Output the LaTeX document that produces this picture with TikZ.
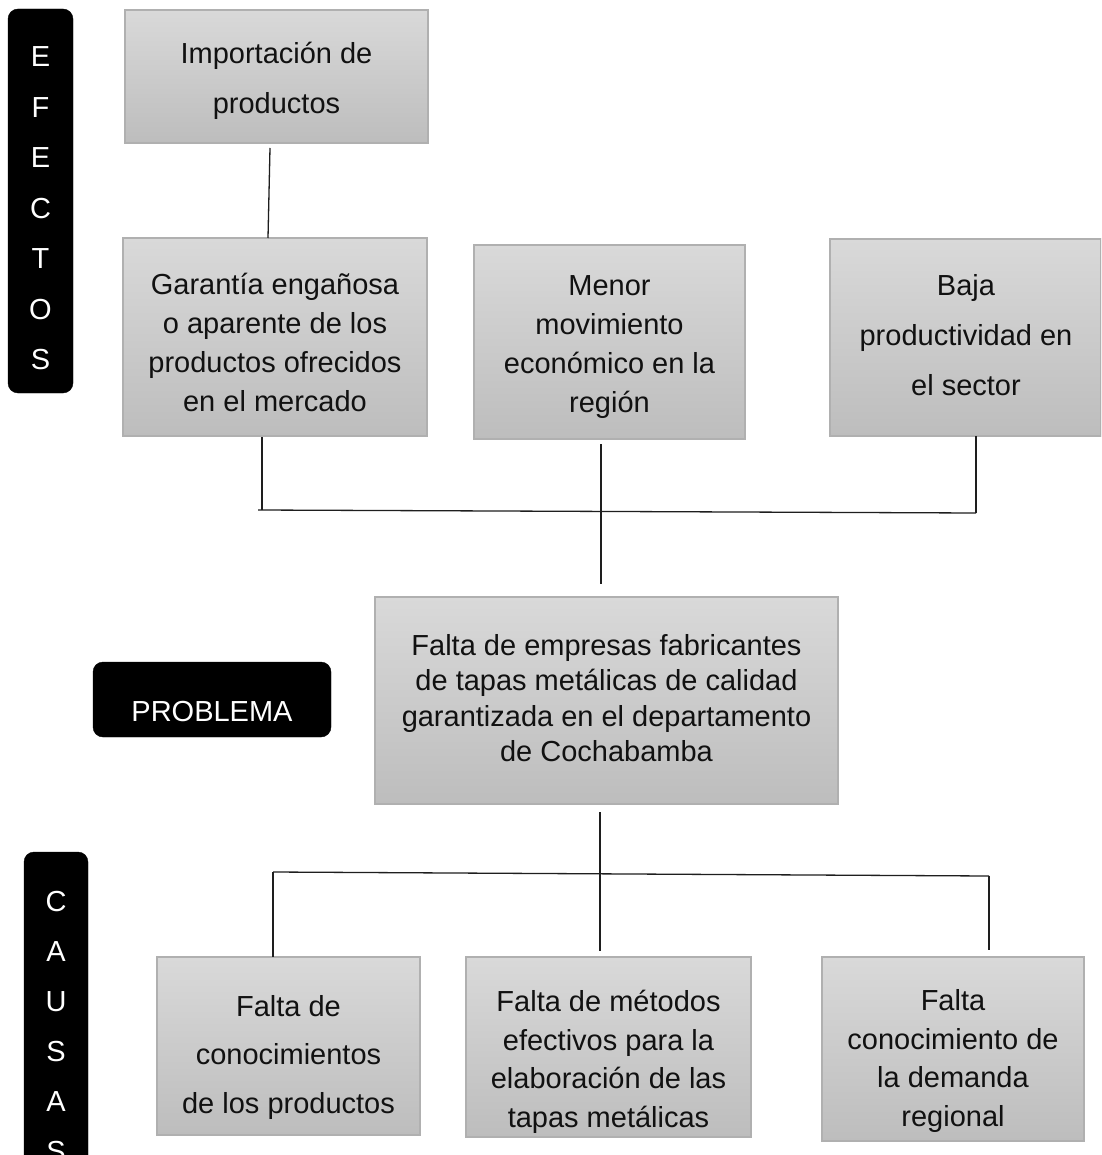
\documentclass[tikz,border=0pt]{standalone}
\usepackage{fontspec}
\setmainfont{Liberation Sans}
\usetikzlibrary{calc}
\definecolor{boxtop}{HTML}{D9D9D9}
\definecolor{boxbot}{HTML}{BDBDBD}
\definecolor{boxline}{HTML}{B0B0B0}
\definecolor{textc}{HTML}{111111}
\definecolor{linec}{HTML}{1E1E1E}
\begin{document}
\begin{tikzpicture}[x=1pt,y=-1pt,
  gbox/.style={draw=boxline, line width=1.3pt, top color=boxtop, bottom color=boxbot, inner sep=0pt, outer sep=0pt},
  bbox/.style={fill=black, draw=black, rounded corners=10pt, inner sep=0pt, outer sep=0pt},
  txt/.style={align=center, text=textc, inner sep=0pt},
  wtxt/.style={align=center, text=white, inner sep=0pt},
  conn/.style={draw=linec, line width=1.3pt}]
\useasboundingbox (0,0) rectangle (1101,1155);
\clip (0,0) rectangle (1101,1155);
\fill[white] (0,0) rectangle (1101,1155);

% side labels
\node[bbox, minimum width=65pt, minimum height=384pt] (efe) at (40.5,201) {};
\node[wtxt, font=\fontsize{29}{50.5}\selectfont] (efet) at (40.5,208.5) {E\\F\\E\\C\\T\\O\\S};
\node[bbox, minimum width=64pt, minimum height=328pt] (cau) at (56,1016) {};
\node[wtxt, font=\fontsize{29}{50}\selectfont] (caut) at (56,1027) {C\\A\\U\\S\\A\\S};
\node[bbox, minimum width=238pt, minimum height=75pt] (prob) at (212,699.5) {};
\node[wtxt, font=\fontsize{29}{35}\selectfont] (probt) at (212,712) {PROBLEMA};

% effect boxes
\node[gbox, minimum width=303pt, minimum height=133pt] (imp) at (276.5,76.5) {};
\node[txt, font=\fontsize{29}{50}\selectfont] at (276.5,81) {Importación de\\productos};
\node[gbox, minimum width=304pt, minimum height=198pt] (gar) at (275,337) {};
\node[txt, font=\fontsize{29}{39}\selectfont] at (275,342) {Garantía engañosa\\o aparente de los\\productos ofrecidos\\en el mercado};
\node[gbox, minimum width=271pt, minimum height=194pt] (men) at (609.5,342) {};
\node[txt, font=\fontsize{29}{39}\selectfont] at (609.5,347) {Menor\\movimiento\\económico en la\\región};
\node[gbox, minimum width=271pt, minimum height=197pt] (baja) at (965.5,337.5) {};
\node[txt, font=\fontsize{29}{50}\selectfont] at (966,335) {Baja\\productividad en\\el sector};

% central problem box
\node[gbox, minimum width=463pt, minimum height=207pt] (cen) at (606.5,700.5) {};
\node[txt, font=\fontsize{29}{35.5}\selectfont] at (606.5,698) {Falta de empresas fabricantes\\de tapas metálicas de calidad\\garantizada en el departamento\\de Cochabamba};

% cause boxes
\node[gbox, minimum width=263pt, minimum height=178pt] (c1) at (288.5,1046) {};
\node[txt, font=\fontsize{29}{48.5}\selectfont] at (288.5,1057) {Falta de\\conocimientos\\de los productos};
\node[gbox, minimum width=285pt, minimum height=180pt] (c2) at (608.5,1047) {};
\begin{scope}
  \clip (c2.north west) rectangle (c2.south east);
  \node[txt, font=\fontsize{29}{38.5}\selectfont] at (608.5,1062) {Falta de métodos\\efectivos para la\\elaboración de las\\tapas metálicas};
\end{scope}
\node[gbox, minimum width=262pt, minimum height=184pt] (c3) at (953,1049) {};
\node[txt, font=\fontsize{29}{38.5}\selectfont] at (953,1061) {Falta\\conocimiento de\\la demanda\\regional};

% connector points
\coordinate (impB) at (270,148);
\coordinate (garT) at (268,238);
\coordinate (garB) at (262,437);
\coordinate (hL) at (258,510);
\coordinate (hR) at (976,513);
\coordinate (garJ) at (262,510);
\coordinate (bajaB) at (976,436);
\coordinate (menB) at (601,444);
\coordinate (cenT) at (601,584);
\coordinate (cenB) at (600,812);
\coordinate (c2T) at (600,951);
\coordinate (kL) at (273,872);
\coordinate (kR) at (989,876);
\coordinate (c1T) at (273,957);
\coordinate (c3T) at (989,950);

\draw[conn] (impB) -- (garT);
\draw[conn] (garB) -- (garJ);
\draw[conn] (hL) -- (hR);
\draw[conn] (bajaB) -- (hR);
\draw[conn] (menB) -- (cenT);
\draw[conn] (cenB) -- (c2T);
\draw[conn] (kL) -- (kR);
\draw[conn] (kL) -- (c1T);
\draw[conn] (kR) -- (c3T);
\end{tikzpicture}
\end{document}
